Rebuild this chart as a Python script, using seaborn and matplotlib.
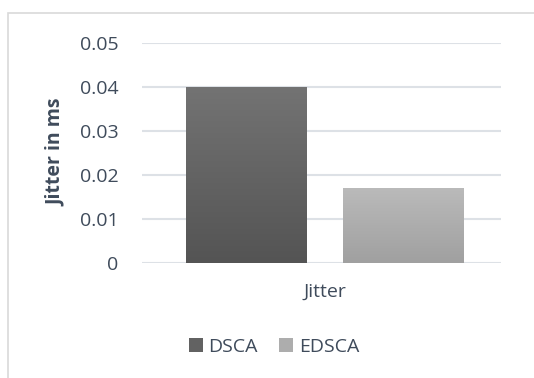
import numpy as np
import pandas as pd
import matplotlib
matplotlib.use("Agg")
import matplotlib.pyplot as plt
from matplotlib.patches import Rectangle, Patch
import seaborn as sns

# Data
categories = ["Jitter"]
methods = ["DSCA", "EDSCA"]
jitter_ms = [0.040, 0.017]
y_ticks = [0, 0.01, 0.02, 0.03, 0.04, 0.05]
y_tick_labels = ["0", "0.01", "0.02", "0.03", "0.04", "0.05"]

df = pd.DataFrame({
    "metric": categories * len(methods),
    "method": methods,
    "value": jitter_ms,
})

sns.set_theme(style="white")
plt.rcParams["font.family"] = ["Open Sans", "DejaVu Sans"]
text_color = "#3f4b5b"
grid_color = "#dde1e6"
fs = 14

# gradient stops (top, bottom) per series
grad = {"DSCA": ("#737373", "#545454"), "EDSCA": ("#bababa", "#a0a0a0")}
mid = {"DSCA": "#626262", "EDSCA": "#adadad"}

fig = plt.figure(figsize=(5.34, 3.78), dpi=100)
ax = fig.add_axes([142 / 534, 1 - 263 / 378, (501 - 142) / 534, (263 - 43) / 378])

sns.barplot(data=df, x="metric", y="value", hue="method", palette=mid,
            width=0.8, gap=0.236, ax=ax, legend=False, errorbar=None, zorder=3)

xlim = (-0.457 - 0.008, 0.457 - 0.008)

# vertical gradient fill on each bar
for patch, m in zip(ax.patches, methods):
    x0, y0 = patch.get_x(), patch.get_y()
    w, h = patch.get_width(), patch.get_height()
    top, bot = matplotlib.colors.to_rgb(grad[m][0]), matplotlib.colors.to_rgb(grad[m][1])
    t = np.linspace(0, 1, 256)[:, None]
    img = (np.array(top)[None, :] * (1 - t) + np.array(bot)[None, :] * t)[:, None, :]
    im = ax.imshow(img, extent=[x0, x0 + w, y0, y0 + h], aspect="auto",
                   origin="upper", zorder=4, interpolation="bilinear")
    im.set_clip_path(patch)
    patch.set_facecolor("none")
    patch.set_edgecolor("none")

ax.set_ylim(0, 0.05)
ax.set_xlim(*xlim)

ax.set_yticks(y_ticks)
ax.set_yticklabels(y_tick_labels)
ax.yaxis.grid(True, color=grid_color, linewidth=1.5, zorder=0)
ax.set_axisbelow(True)
for s in ax.spines.values():
    s.set_visible(False)
ax.tick_params(axis="y", length=0, pad=17, labelsize=fs, labelcolor=text_color)
ax.tick_params(axis="x", length=0, pad=14, labelsize=fs, labelcolor=text_color)
ax.set_xlabel("")
ax.set_ylabel("Jitter in ms", fontsize=fs, fontweight="bold", color=text_color)
ax.yaxis.set_label_coords(-0.24, 0.505)
ax.yaxis.label.set_va("center")

# legend below the plot
handles = [Patch(facecolor=mid[m], edgecolor="none") for m in methods]
fig.legend(handles, methods, loc="center", bbox_to_anchor=(274 / 534, 1 - 347 / 378),
           ncol=2, frameon=False, fontsize=fs, labelcolor=text_color,
           handlelength=0.7, handleheight=0.7, handletextpad=0.3, columnspacing=1.1)

# chart frame
fig.patches.append(Rectangle((8 / 534, -0.1), 1.2, 1 - 13 / 378 + 0.1,
                             transform=fig.transFigure, fill=False,
                             edgecolor="#d9d9d9", linewidth=1.2, zorder=0))

fig.savefig("out.png", dpi=100)
